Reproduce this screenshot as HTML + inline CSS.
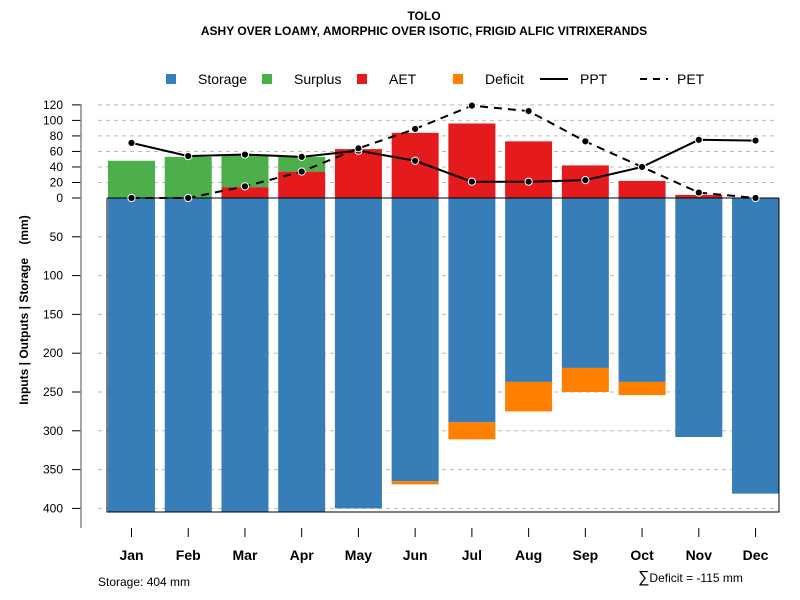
<!DOCTYPE html>
<html><head><meta charset="utf-8"><style>
body{margin:0;background:#fff;}
svg{display:block;font-family:"Liberation Sans",Arial,sans-serif;}
</style></head><body>
<svg id="chart" width="800" height="600" viewBox="0 0 800 600">
<text x="424" y="20" text-anchor="middle" font-size="12" font-weight="bold">TOLO</text>
<text x="424" y="35" text-anchor="middle" font-size="12" font-weight="bold">ASHY OVER LOAMY, AMORPHIC OVER ISOTIC, FRIGID ALFIC VITRIXERANDS</text>
<g font-size="14">
<rect x="166" y="74" width="10" height="10" fill="#377eb8"/>
<text x="198" y="84">Storage</text>
<rect x="262" y="74" width="10" height="10" fill="#4daf4a"/>
<text x="294" y="84">Surplus</text>
<rect x="357" y="74" width="10" height="10" fill="#e41a1c"/>
<text x="389" y="84">AET</text>
<rect x="453" y="74" width="10" height="10" fill="#ff7f00"/>
<text x="485" y="84">Deficit</text>
<line x1="540" y1="79" x2="568" y2="79" stroke="#000" stroke-width="2"/>
<text x="580" y="84">PPT</text>
<line x1="640" y1="79" x2="668" y2="79" stroke="#000" stroke-width="2" stroke-dasharray="7,6"/>
<text x="677" y="84">PET</text>
</g>
<text transform="translate(28,310) rotate(-90)" text-anchor="middle" font-size="12" font-weight="bold" xml:space="preserve">Inputs | Outputs | Storage    (mm)</text>
<g id="grid"></g><g id="bars"></g><g id="lines"></g><g id="axes"></g>
<text x="98" y="586" font-size="12">Storage: 404 mm</text>
<text x="638" y="582" font-size="12"><tspan font-size="16">∑</tspan>Deficit = -115 mm</text>
</svg>
<script>
const months=["Jan","Feb","Mar","Apr","May","Jun","Jul","Aug","Sep","Oct","Nov","Dec"];
const storage=[404,404,404,404,400,365,289,237,219,237,308,381];
const deficit=[0,0,0,0,0,4,22,38,31,17,0,0];
const aet=[0,0,14,34,63,84,96,73,42,22,4,0];
const surplus=[48,53,41,19,0,0,0,0,0,0,0,0];
const ppt=[71,54,56,53,61,48,21,21,23,40,75,74];
const pet=[0,0,15,34,64,89,119,112,73,40,7,0];
const upTicks=[0,20,40,60,80,100,120];
const downTicks=[50,100,150,200,250,300,350,400];
const NS="http://www.w3.org/2000/svg";
const Y0=198,K=0.776,X0=131.5,DX=56.73,BW=47;
const xs=i=>X0+i*DX;
const yUp=v=>Y0-v*K;
const yDn=v=>Y0+v*K;
function mk(p,t,a){const e=document.createElementNS(NS,t);for(const k in a)e.setAttribute(k,a[k]);document.getElementById(p).appendChild(e);return e;}
upTicks.forEach(v=>{const y=yUp(v);
if(v>0){const g=mk("grid","line",{x1:98,x2:778,y1:y,y2:y,stroke:"#bbb","stroke-dasharray":"4,4"});

}
const t=mk("axes","line",{x1:72,x2:81,y1:y,y2:y,stroke:"#000"});


const l=mk("axes","text",{x:63,y:y+4,"text-anchor":"end","font-size":12});l.textContent=v;

});
downTicks.forEach(v=>{const y=yDn(v);
const g=mk("grid","line",{x1:98,x2:778,y1:y,y2:y,stroke:"#bbb","stroke-dasharray":"4,4"});


const t=mk("axes","line",{x1:72,x2:81,y1:y,y2:y,stroke:"#000"});


const l=mk("axes","text",{x:63,y:y+4,"text-anchor":"end","font-size":12});l.textContent=v;

});
const ax=mk("axes","line",{x1:81,x2:81,y1:104,y2:528,stroke:"#888","stroke-width":1.5});


const maxS=Math.max(...storage);
const fr=mk("axes","path",{d:`M107,${Y0} V${yDn(maxS)+0.5} H779 V${Y0}`,fill:"none",stroke:"#000"});


months.forEach((m,i)=>{const x=xs(i),x0=x-BW/2;
const s=mk("bars","rect",{x:x0,y:Y0,width:BW,height:storage[i]*K,fill:"#377eb8"});


if(deficit[i]>0){const d=mk("bars","rect",{x:x0,y:yDn(storage[i]),width:BW,height:deficit[i]*K,fill:"#ff7f00"});

}
if(aet[i]>0){const a=mk("bars","rect",{x:x0,y:yUp(aet[i]),width:BW,height:aet[i]*K,fill:"#e41a1c"});

}
if(surplus[i]>0){const u=mk("bars","rect",{x:x0,y:yUp(aet[i]+surplus[i]),width:BW,height:surplus[i]*K,fill:"#4daf4a"});

}
const t=mk("axes","line",{x1:x,x2:x,y1:528,y2:537,stroke:"#000"});


const l=mk("axes","text",{x:x,y:560,"text-anchor":"middle","font-size":14,"font-weight":"bold"});l.textContent=m;

});
const zl=mk("bars","line",{x1:107,x2:779,y1:Y0,y2:Y0,stroke:"#000"});


function series(arr,name,dash){
const p=mk("lines","polyline",{points:arr.map((v,i)=>xs(i)+","+yUp(v)).join(" "),fill:"none",stroke:"#000","stroke-width":2,"stroke-dasharray":dash||"none"});


arr.forEach((v,i)=>{const c=mk("lines","circle",{cx:xs(i),cy:yUp(v),r:3.6,fill:"#000",stroke:"#fff","stroke-width":1});

});}
series(ppt,"ppt");
series(pet,"pet","8,6");
</script>
</body></html>
